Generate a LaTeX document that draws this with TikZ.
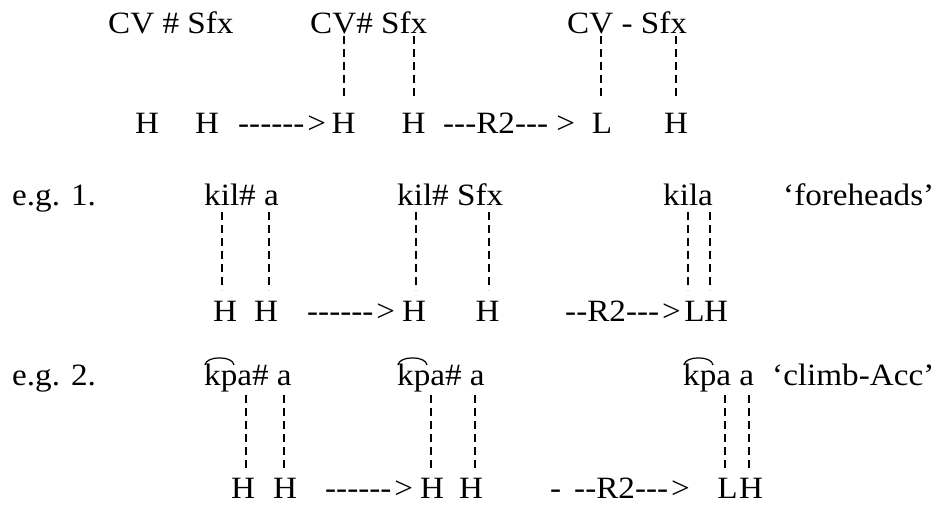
\documentclass[tikz,border=0pt]{standalone}
\usepackage{fontspec}
\setmainfont{Liberation Serif}[Ligatures=TeXOff, FakeStretch=1.07]
\usetikzlibrary{calc}
\newcommand\fs{\fontsize{31}{36}\selectfont}
\newcommand\gp{\hspace{3pt}}
\tikzset{
  w/.style={anchor=base west, inner sep=0pt, font=\fs},
  t/.style={anchor=base, inner sep=0pt, font=\fs},
  dl/.style={line width=2pt, dash pattern=on 8pt off 5pt},
  tiearc/.style={line width=1.2pt}
}
\newcommand\conn[5]{\draw[dl] ($(#2.base -| #1.base)+(#3,-#5)$) -- ($(#1.base)+(#3,#4)$);}
\newcommand\kptie[1]{\draw[tiearc] ($(#1.base west)+(1,20)$) .. controls ($(#1.base west)+(2,29.5)$) and ($(#1.base west)+(29,29.5)$) .. ($(#1.base west)+(30,20)$);}
\begin{document}
\begin{tikzpicture}[x=1pt,y=1pt]
\useasboundingbox (0,0) rectangle (938,-504);
% ---------- row 1 ----------
\node[w] (a1) at (108,-33) {CV \# Sfx};
\node[w] (a2) at (310,-33) {CV\# Sfx};
\node[w] (a3) at (567,-33) {CV - Sfx};
\node[t] (h11) at (147,-133) {H};
\node[t] (h12) at (207,-133) {H};
\node[w] (ar11) at (238,-133) {------\gp>};
\node[t] (h13) at (343.5,-133) {H};
\node[t] (h14) at (413.5,-133) {H};
\node[w] (ar12) at (443,-133) {---R2--- >};
\node[t] (h15) at (602,-133) {L};
\node[t] (h16) at (676,-133) {H};
\conn{h13}{a2}{0}{33}{3}
\conn{h14}{a2}{0}{33}{3}
\conn{h15}{a3}{-1}{33}{3}
\conn{h16}{a3}{0}{33}{3}
% ---------- row 2 ----------
\node[w] (eg1) at (12,-205) {e.g. 1.};
\node[w] (b1) at (204,-205) {kil\# a};
\node[w] (b2) at (397,-205) {kil\# Sfx};
\node[w] (b3) at (663,-205) {kila};
\node[w] (gl1) at (783,-205) {‘foreheads’};
\node[t] (h21) at (225,-321) {H};
\node[t] (h22) at (266,-321) {H};
\node[w] (ar21) at (307,-321) {------\gp>};
\node[t] (h23) at (414,-321) {H};
\node[t] (h24) at (487.5,-321) {H};
\node[w] (ar22) at (565,-321) {--R2---\gp>};
\node[t] (h25) at (694.5,-321) {L};
\node[t] (h26) at (716,-321) {H};
\conn{h21}{b1}{-3}{31}{7}
\conn{h22}{b1}{3}{31}{7}
\conn{h23}{b2}{2}{31}{7}
\conn{h24}{b2}{1.5}{31}{7}
\conn{h25}{b3}{-6.5}{31}{7}
\conn{h26}{b3}{-6}{31}{7}
% ---------- row 3 ----------
\node[w] (eg2) at (12,-385) {e.g. 2.};
\node[w] (c1) at (204,-385) {kpa\# a};
\node[w] (c2) at (397,-385) {kpa\# a};
\node[w] (c3) at (683,-385) {kpa a};
\node[w] (gl2) at (772,-385) {‘climb-Acc’};
\kptie{c1}
\kptie{c2}
\kptie{c3}
\node[t] (h31) at (243,-498) {H};
\node[t] (h32) at (285,-498) {H};
\node[w] (ar31) at (325,-498) {------\gp>};
\node[t] (h33) at (432,-498) {H};
\node[t] (h34) at (471,-498) {H};
\node[w] (ar32) at (550,-498) {-\hspace{13pt}--R2---\gp>};
\node[t] (h35) at (727.5,-498) {L};
\node[t] (h36) at (751,-498) {H};
\conn{h31}{c1}{3}{30}{10}
\conn{h32}{c1}{-1}{30}{10}
\conn{h33}{c2}{-1}{30}{10}
\conn{h34}{c2}{4}{30}{10}
\conn{h35}{c3}{-2.5}{30}{10}
\conn{h36}{c3}{-2}{30}{10}
\end{tikzpicture}
\end{document}
